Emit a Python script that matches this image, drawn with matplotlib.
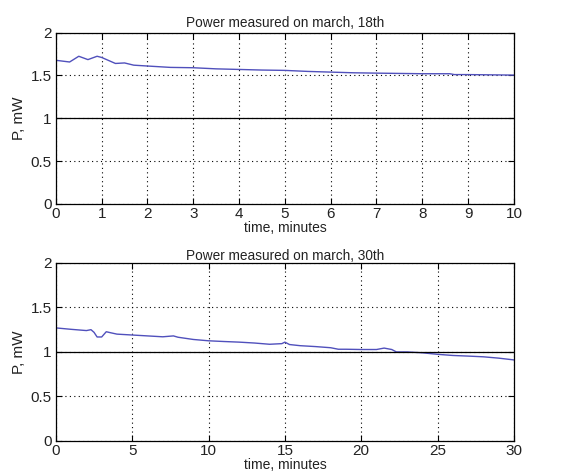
import numpy as np
import matplotlib
matplotlib.use('Agg')
import matplotlib.pyplot as plt

# march 18th measurement (time in minutes, power in mW)
t18 = [0, 0.3, 0.5, 0.7, 0.9, 1.0, 1.3, 1.5, 1.7, 2.0, 2.5, 3.0, 3.5, 4.0, 4.5,
       5.0, 5.5, 6.0, 6.5, 7.0, 8.0, 8.6, 8.7, 9.0, 10.0]
p18 = [1.677, 1.657, 1.724, 1.685, 1.724, 1.71, 1.64, 1.646, 1.62, 1.61, 1.594, 1.59,
       1.577, 1.57, 1.563, 1.559, 1.547, 1.539, 1.531, 1.527, 1.52, 1.52, 1.51, 1.51, 1.504]

# march 30th measurement
t30 = [0, 1, 2, 2.3, 2.5, 2.7, 3.0, 3.3, 3.6, 4, 5, 6, 7, 7.7, 8, 9, 10, 11, 12, 13,
       14, 14.8, 15, 15.3, 16, 17, 18, 18.5, 19, 20, 21, 21.5, 22, 22.3, 23, 24, 25,
       26, 27, 28, 29, 30]
p30 = [1.27, 1.254, 1.24, 1.25, 1.22, 1.168, 1.168, 1.227, 1.215, 1.2, 1.19, 1.18,
       1.17, 1.18, 1.165, 1.14, 1.125, 1.117, 1.11, 1.1, 1.086, 1.093, 1.11, 1.083,
       1.07, 1.06, 1.047, 1.03, 1.03, 1.027, 1.027, 1.043, 1.027, 1.0, 1.0, 0.99, 0.973,
       0.96, 0.953, 0.945, 0.93, 0.91]

plt.rcParams['font.family'] = ['Liberation Sans', 'DejaVu Sans']

fig = plt.figure(figsize=(5.82, 4.73), dpi=100)
ax1 = fig.add_axes([0.096, 0.569, 0.787, 0.362])
ax2 = fig.add_axes([0.096, 0.068, 0.787, 0.376])

panels = [(ax1, t18, p18, 10, 1, 'Power measured on march, 18th', 4),
          (ax2, t30, p30, 30, 5, 'Power measured on march, 30th', 2)]

for ax, t, p, xmax, step, title, tpad in panels:
    ax.plot(t, p, color='#5050bc', lw=1)
    ax.axhline(1, color='black', lw=0.9)
    ax.set_xlim(0, xmax)
    ax.set_ylim(0, 2)
    ax.set_xticks(np.arange(0, xmax + step, step))
    ax.set_yticks([0, 0.5, 1, 1.5, 2])
    ax.set_yticklabels(['0', '0.5', '1', '1.5', '2'])
    ax.grid(True, color='black', linestyle=(0, (1, 3)), lw=0.8)
    ax.tick_params(direction='in', top=True, right=True, labelsize=11,
                   length=4, labelcolor='#222222')
    ax.tick_params(axis='x', pad=2.5)
    ax.tick_params(axis='y', pad=3)
    for s in ax.spines.values():
        s.set_linewidth(0.9)
    ax.set_title(title, fontsize=9.8, pad=tpad, color='#222222')
    ax.set_xlabel('time, minutes', fontsize=10, labelpad=0, color='#222222')
    ax.set_ylabel('P, mW', fontsize=11, labelpad=3, color='#222222')

plt.savefig('out.png', dpi=100)
